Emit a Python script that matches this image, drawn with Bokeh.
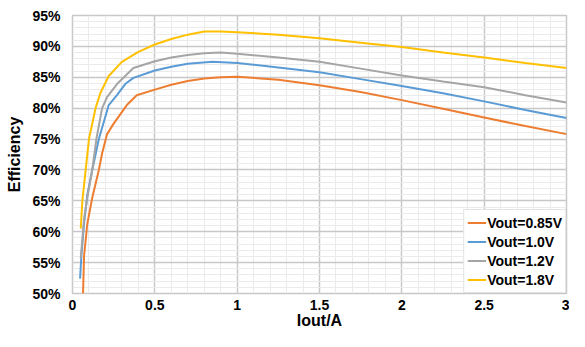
from bokeh.plotting import figure
from bokeh.models import (SingleIntervalTicker, PrintfTickFormatter, NumeralTickFormatter,
                          Range1d, Legend, LegendItem)
from bokeh.embed import file_html
from bokeh.resources import INLINE

# Data (Iout in A, efficiency in %)
x_085 = [0.064, 0.07, 0.09, 0.12, 0.16, 0.18, 0.21, 0.25, 0.29, 0.33, 0.39, 0.5, 0.6, 0.7, 0.8, 0.9, 1.0,
         1.25, 1.5, 1.75, 2.0, 2.25, 2.5, 2.75, 3.0]
y_085 = [50.0, 56.0, 61.3, 65.5, 70.0, 72.7, 75.8, 77.5, 79.0, 80.5, 82.1, 83.0, 83.8, 84.4, 84.8, 85.0, 85.1,
         84.6, 83.7, 82.6, 81.3, 79.9, 78.5, 77.1, 75.8]

x_10 = [0.046, 0.054, 0.07, 0.09, 0.12, 0.16, 0.22, 0.27, 0.32, 0.37, 0.5, 0.6, 0.7, 0.85, 1.0,
        1.25, 1.5, 1.75, 2.0, 2.25, 2.5, 2.75, 3.0]
y_10 = [52.4, 56.1, 61.3, 66.0, 70.0, 75.0, 80.5, 82.1, 83.9, 84.9, 86.1, 86.7, 87.2, 87.5, 87.3,
        86.6, 85.8, 84.7, 83.6, 82.4, 81.1, 79.7, 78.4]

x_12 = [0.05, 0.07, 0.09, 0.12, 0.145, 0.18, 0.21, 0.27, 0.32, 0.37, 0.5, 0.6, 0.7, 0.8, 0.9, 1.0,
        1.25, 1.5, 1.75, 2.0, 2.25, 2.5, 2.75, 3.0]
y_12 = [55.7, 62.0, 65.5, 70.0, 75.0, 80.0, 81.8, 83.9, 85.2, 86.5, 87.6, 88.2, 88.6, 88.9, 89.0, 88.8,
        88.2, 87.5, 86.4, 85.3, 84.3, 83.4, 82.1, 80.9]

x_18 = [0.05, 0.06, 0.08, 0.10, 0.14, 0.17, 0.22, 0.30, 0.40, 0.50, 0.60, 0.70, 0.80, 0.90, 1.0,
        1.25, 1.5, 1.75, 2.0, 2.25, 2.5, 2.75, 3.0]
y_18 = [60.5, 65.0, 70.0, 75.0, 80.0, 82.5, 85.2, 87.5, 89.1, 90.3, 91.2, 91.9, 92.4, 92.4, 92.3,
        91.9, 91.3, 90.6, 89.9, 89.0, 88.2, 87.3, 86.5]

series_names = ["Vout=0.85V", "Vout=1.0V", "Vout=1.2V", "Vout=1.8V"]
series_colors = ["#ED7D31", "#5B9BD5", "#A5A5A5", "#FFC000"]
series_x = [x_085, x_10, x_12, x_18]
series_y = [y_085, y_10, y_12, y_18]

FONT = "Liberation Sans"

p = figure(width=569, height=331, output_backend="svg", toolbar_location=None,
           x_range=Range1d(0, 3), y_range=Range1d(50, 95),
           min_border_left=72, min_border_right=3, min_border_top=15, min_border_bottom=36)
p.outline_line_color = "#C8C8C8"
p.outline_line_width = 1.5

p.xaxis.ticker = SingleIntervalTicker(interval=0.5, num_minor_ticks=5)
p.yaxis.ticker = SingleIntervalTicker(interval=5, num_minor_ticks=5)
p.xaxis.formatter = NumeralTickFormatter(format="0.[0]")
p.yaxis.formatter = PrintfTickFormatter(format="%d%%")

for ax in (p.xaxis[0], p.yaxis[0]):
    ax.axis_line_color = None
    ax.major_tick_line_color = None
    ax.minor_tick_line_color = None
    ax.major_tick_out = 0
    ax.minor_tick_out = 0
    ax.major_label_text_font = FONT
    ax.major_label_text_font_style = "bold"
    ax.major_label_text_font_size = "14px"
    ax.major_label_text_color = "#000000"
    ax.axis_label_text_font = FONT
    ax.axis_label_text_font_style = "bold"
    ax.axis_label_text_font_size = "16px"
    ax.axis_label_text_color = "#000000"

p.xaxis.axis_label = "Iout/A"
p.yaxis.axis_label = "Efficiency"
p.xaxis.major_label_standoff = 6
p.yaxis.major_label_standoff = 12
p.xaxis.axis_label_standoff = -1
p.yaxis.axis_label_standoff = 6

for g in (p.xgrid[0], p.ygrid[0]):
    g.grid_line_color = "#C8C8C8"
    g.grid_line_width = 1.5
    g.minor_grid_line_color = "#EBEBEB"
    g.minor_grid_line_width = 1

items = []
for name, col, xs, ys in zip(series_names, series_colors, series_x, series_y):
    r = p.line(xs, ys, line_color=col, line_width=2)
    items.append(LegendItem(label=name, renderers=[r]))

legend = Legend(items=items, location="bottom_right")
legend.label_text_font = FONT
legend.label_text_font_style = "bold"
legend.label_text_font_size = "14px"
legend.label_text_color = "#000000"
legend.label_height = 19
legend.glyph_height = 19
legend.glyph_width = 19
legend.label_standoff = 1
legend.spacing = 0
legend.padding = 3
legend.margin = 0
legend.border_line_color = "#C8C8C8"
legend.border_line_width = 1.5
legend.background_fill_color = "white"
legend.background_fill_alpha = 1.0
p.add_layout(legend, "center")

open("out.html", "w").write(file_html(p, INLINE))
